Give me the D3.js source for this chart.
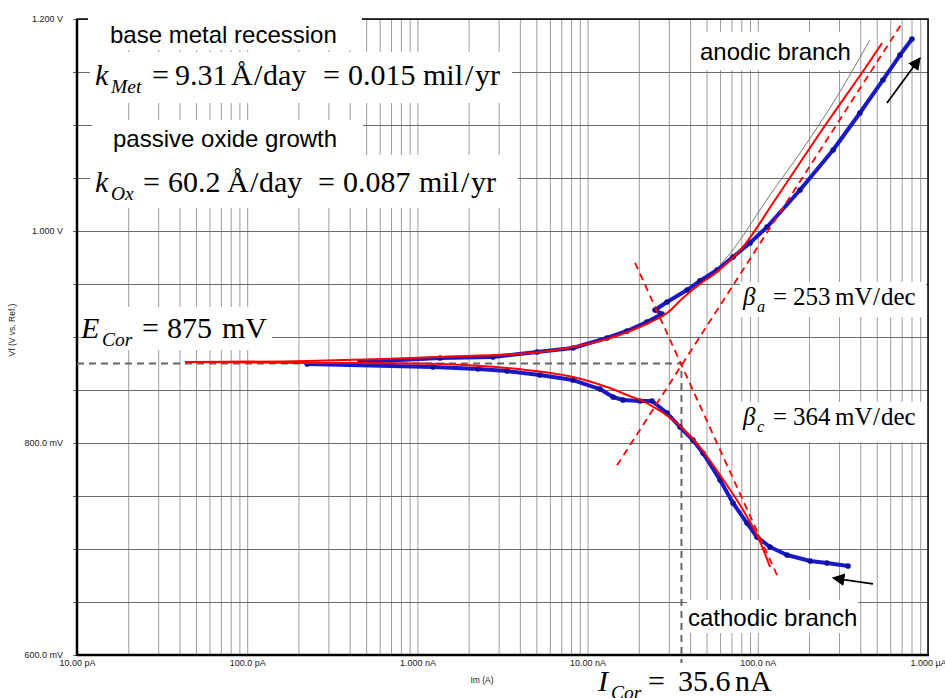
<!DOCTYPE html>
<html><head><meta charset="utf-8">
<script src="https://cdn.jsdelivr.net/npm/d3@7"></script>
<style>body{margin:0;background:#fff}</style>
</head><body>
<svg id="chart" width="945" height="698"></svg>
<script>
// ---------------- DATA ----------------
const xTickValues = [1e-11, 1e-10, 1e-9, 1e-8, 1e-7, 1e-6];
const xTickLabels = ["10.00 pA", "100.0 pA", "1.000 nA", "10.00 nA", "100.0 nA", "1.000 µA"];
const yTickValues = [0.6, 0.8, 1.0, 1.2];
const yTickLabels = ["600.0 mV", "800.0 mV", "1.000 V", "1.200 V"];

const Ecorr = 0.875;      // V
const Icorr = 3.56e-8;    // A

// measured data [current A, potential V]
const measuredAnodic = [
  [4.60e-10, 0.8764], [1.358e-9, 0.8802], [2.78e-9, 0.8811], [5.04e-9, 0.8858],
  [8.21e-9, 0.8896], [1.30e-8, 0.8991], [1.705e-8, 0.9057], [2.23e-8, 0.9142],
  [2.74e-8, 0.9217], [2.49e-8, 0.9255], [2.93e-8, 0.9330], [3.84e-8, 0.9443],
  [4.57e-8, 0.9530], [5.76e-8, 0.9632], [7.15e-8, 0.9755], [9.00e-8, 0.9887],
  [1.133e-7, 1.0038], [1.77e-7, 1.0387], [2.77e-7, 1.0764], [3.98e-7, 1.1113],
  [5.44e-7, 1.1425], [6.85e-7, 1.1660], [8.05e-7, 1.1811]
];
const measuredCathodic = [
  [2.25e-10, 0.8745], [1.235e-9, 0.8717], [2.27e-9, 0.8698], [3.36e-9, 0.8679],
  [5.25e-9, 0.8642], [8.21e-9, 0.8594], [1.183e-8, 0.8509], [1.41e-8, 0.8434],
  [1.615e-8, 0.8406], [2.03e-8, 0.8396], [2.39e-8, 0.8396], [2.93e-8, 0.8283],
  [3.49e-8, 0.8151], [4.16e-8, 0.8028], [4.76e-8, 0.7906], [6.00e-8, 0.7651],
  [7.15e-8, 0.7434], [8.64e-8, 0.7245], [9.89e-8, 0.7113], [1.18e-7, 0.7019],
  [1.485e-7, 0.6943], [2.03e-7, 0.6887], [2.55e-7, 0.6868], [3.39e-7, 0.6840]
];
// fitted model curves
const fitAnodic = [
  [4.31e-11, 0.8764], [2.25e-10, 0.8774], [1.358e-9, 0.8811], [5.25e-9, 0.8858],
  [1.183e-8, 0.8962], [2.03e-8, 0.9094], [2.93e-8, 0.9226], [3.63e-8, 0.9368],
  [4.57e-8, 0.9500], [5.76e-8, 0.9613], [8.18e-8, 0.9849], [1.262e-7, 1.0292],
  [2.32e-7, 1.0925], [4.32e-7, 1.1547], [5.37e-7, 1.1774]
];
const fitCathodic = [
  [4.31e-11, 0.8764], [2.25e-10, 0.8755], [1.358e-9, 0.8745], [3.36e-9, 0.8708],
  [8.21e-9, 0.8623], [1.30e-8, 0.8528], [1.705e-8, 0.8453], [2.23e-8, 0.8377],
  [3.18e-8, 0.8217], [3.84e-8, 0.8094], [4.57e-8, 0.7962], [6.00e-8, 0.7698],
  [7.86e-8, 0.7415], [9.89e-8, 0.7132], [1.18e-7, 0.6830]
];
// Tafel lines
const tafelAnodic = [[1.49e-8, 0.779], [7.03e-7, 1.196]];
const tafelCathodic = [[1.90e-8, 0.970], [1.30e-7, 0.675]];
// thin grey reference curve
const greyCurve = [
  [6.00e-8, 0.9679], [7.35e-8, 0.9849], [1.18e-7, 1.0340],
  [1.77e-7, 1.0736], [2.84e-7, 1.1236], [4.56e-7, 1.1802]
];
// scan direction arrows [tail, head]
const arrowAnodic = [[5.74e-7, 1.1208], [8.97e-7, 1.1632]];
const arrowCathodic = [[4.75e-7, 0.6670], [2.77e-7, 0.6726]];

// ---------------- LAYOUT ----------------
const svg = d3.select("#chart");
const L = 77, R = 928, T = 19, B = 655;
const x = d3.scaleLog().domain([1e-11, 1e-6]).range([L, R]);
const y = d3.scaleLinear().domain([0.6, 1.2]).range([B, T]);
const SANS = "'Liberation Sans', Arial, sans-serif";
const SERIF = "'Liberation Serif', 'Times New Roman', serif";

svg.append("defs").append("marker")
  .attr("id", "ah").attr("viewBox", "0 0 10 10").attr("refX", 9).attr("refY", 5)
  .attr("markerWidth", 7).attr("markerHeight", 7).attr("orient", "auto")
  .append("path").attr("d", "M0,0 L10,5 L0,10 Z").attr("fill", "#000");

// vertical grid (log minor ticks)
const vgrid = svg.append("g").attr("transform", `translate(0,${B})`)
  .call(d3.axisBottom(x).tickValues(x.ticks()).tickSize(-(B - T)).tickFormat(""));
vgrid.select(".domain").remove();
vgrid.selectAll("line").attr("stroke", "#9c9c9c").attr("stroke-width", 1);

// horizontal grid every 50 mV (extends as tick marks left of axis)
const hvals = d3.range(0.6, 1.2001, 0.05);
const hgrid = svg.append("g").attr("transform", `translate(${L - 4},0)`)
  .call(d3.axisRight(y).tickValues(hvals).tickSize(R - L + 4).tickFormat(""));
hgrid.select(".domain").remove();
hgrid.selectAll("line").attr("stroke", "#6c6c6c").attr("stroke-width", 1);

// frame
svg.append("rect").attr("x", L).attr("y", T).attr("width", R - L).attr("height", B - T)
  .attr("fill", "none").attr("stroke", "#000").attr("stroke-width", 1.5);
svg.append("line").attr("x1", L).attr("x2", L).attr("y1", T).attr("y2", B + 1)
  .attr("stroke", "#000").attr("stroke-width", 2.5);
svg.append("line").attr("x1", L).attr("x2", R + 1).attr("y1", B).attr("y2", B)
  .attr("stroke", "#000").attr("stroke-width", 2.5);

// white label boxes
const boxes = [
  [88, 18, 274, 32], [90, 52, 422, 51], [92, 120, 271, 35], [90, 155, 428, 53],
  [79, 307, 193, 43], [740, 282, 186, 35], [740, 402, 186, 40],
  [695, 32, 160, 38], [687, 600, 171, 33]
];
svg.append("g").selectAll("rect").data(boxes).join("rect")
  .attr("x", d => d[0]).attr("y", d => d[1]).attr("width", d => d[2]).attr("height", d => d[3])
  .attr("fill", "#fff");

// axis tick labels
const xl = svg.append("g").attr("transform", `translate(0,${B})`)
  .call(d3.axisBottom(x).tickValues(xTickValues).tickSize(0).tickPadding(5)
    .tickFormat((d, i) => xTickLabels[i]));
xl.select(".domain").remove();
xl.selectAll("text").attr("font-family", SANS).attr("font-size", 9).attr("fill", "#1a1a1a");

const yl = svg.append("g").attr("transform", `translate(${L},0)`)
  .call(d3.axisLeft(y).tickValues(yTickValues).tickSize(0).tickPadding(14)
    .tickFormat((d, i) => yTickLabels[i]));
yl.select(".domain").remove();
yl.selectAll("text").attr("font-family", SANS).attr("font-size", 9).attr("fill", "#1a1a1a");

svg.append("text").attr("x", 482).attr("y", 683).attr("text-anchor", "middle")
  .attr("font-family", SANS).attr("font-size", 8.5).attr("fill", "#1a1a1a").text("Im (A)");
svg.append("text").attr("transform", "translate(15,330) rotate(-90)").attr("text-anchor", "middle")
  .attr("font-family", SANS).attr("font-size", 8.5).attr("fill", "#1a1a1a").text("Vf (V vs. Ref.)");

// Ecorr / Icorr crosshair
svg.append("path")
  .attr("d", `M${L},${y(Ecorr)} H${x(Icorr)} V${B + 8}`)
  .attr("fill", "none").attr("stroke", "#666").attr("stroke-width", 2).attr("stroke-dasharray", "7,5");

const line = d3.line().x(d => x(d[0])).y(d => y(d[1]));
const smooth = d3.line().x(d => x(d[0])).y(d => y(d[1])).curve(d3.curveCatmullRom.alpha(0.5));

// grey reference curve
svg.append("path").attr("d", smooth(greyCurve)).attr("fill", "none")
  .attr("stroke", "#777").attr("stroke-width", 1);

// measured data (blue)
[measuredAnodic, measuredCathodic].forEach(data => {
  svg.append("path").attr("d", line(data)).attr("fill", "none")
    .attr("stroke", "#1a1ac4").attr("stroke-width", 4).attr("stroke-linejoin", "round");
  svg.append("g").selectAll("circle").data(data).join("circle")
    .attr("cx", d => x(d[0])).attr("cy", d => y(d[1])).attr("r", 2.8).attr("fill", "#10109a");
});

// fitted curves (red)
[fitAnodic, fitCathodic].forEach(data => {
  svg.append("path").attr("d", smooth(data)).attr("fill", "none")
    .attr("stroke", "#ff0000").attr("stroke-width", 2);
});
[tafelAnodic, tafelCathodic].forEach(data => {
  svg.append("path").attr("d", line(data)).attr("fill", "none")
    .attr("stroke", "#ff0000").attr("stroke-width", 1.8).attr("stroke-dasharray", "7,5");
});

// arrows
[arrowAnodic, arrowCathodic].forEach(a => {
  svg.append("line").attr("x1", x(a[0][0])).attr("y1", y(a[0][1]))
    .attr("x2", x(a[1][0])).attr("y2", y(a[1][1]))
    .attr("stroke", "#000").attr("stroke-width", 1.8).attr("marker-end", "url(#ah)");
});

// ---------------- TEXT ----------------
function label(txt, x0, y0) {
  svg.append("text").attr("x", x0).attr("y", y0).attr("font-family", SANS)
    .attr("font-size", 24).attr("fill", "#000").text(txt);
}
label("base metal recession", 110, 43);
label("passive oxide growth", 113, 147);
label("anodic branch", 700, 60);
label("cathodic branch", 688, 626);

function math(y0, size, parts) {
  const g = svg.append("g");
  parts.forEach(p => {
    g.append("text")
      .attr("x", p.x).attr("y", p.sub ? y0 + size * 0.27 : y0)
      .attr("font-family", SERIF)
      .attr("font-size", p.sub ? size * 0.65 : size)
      .attr("font-style", p.it ? "italic" : "normal")
      .attr("fill", "#000").text(p.t);
  });
}
math(85, 30, [
  {t: "k", x: 95, it: 1}, {t: "Met", x: 111, it: 1, sub: 1}, {t: "=", x: 152},
  {t: "9.31", x: 175}, {t: "Å", x: 231}, {t: "/", x: 254}, {t: "day", x: 263},
  {t: "=", x: 323}, {t: "0.015", x: 348},
  {t: "mil", x: 423}, {t: "/", x: 465}, {t: "yr", x: 475}
]);
math(192, 30, [
  {t: "k", x: 95, it: 1}, {t: "Ox", x: 111, it: 1, sub: 1}, {t: "=", x: 143},
  {t: "60.2", x: 168}, {t: "Å", x: 227}, {t: "/", x: 250}, {t: "day", x: 259},
  {t: "=", x: 318}, {t: "0.087", x: 343},
  {t: "mil", x: 419}, {t: "/", x: 461}, {t: "yr", x: 471}
]);
math(338, 30, [
  {t: "E", x: 81, it: 1}, {t: "Cor", x: 102, it: 1, sub: 1}, {t: "=", x: 142},
  {t: "875", x: 167}, {t: "mV", x: 222}
]);
math(691, 30, [
  {t: "I", x: 598, it: 1}, {t: "Cor", x: 611, it: 1, sub: 1}, {t: "=", x: 648},
  {t: "35.6", x: 678}, {t: "nA", x: 735}
]);
math(305, 25, [
  {t: "β", x: 743, it: 1}, {t: "a", x: 757, it: 1, sub: 1}, {t: "=", x: 773},
  {t: "253", x: 793}, {t: "mV", x: 835}, {t: "/", x: 873}, {t: "dec", x: 881}
]);
math(425, 25, [
  {t: "β", x: 743, it: 1}, {t: "c", x: 757, it: 1, sub: 1}, {t: "=", x: 773},
  {t: "364", x: 793}, {t: "mV", x: 835}, {t: "/", x: 873}, {t: "dec", x: 881}
]);
</script>
</body></html>
